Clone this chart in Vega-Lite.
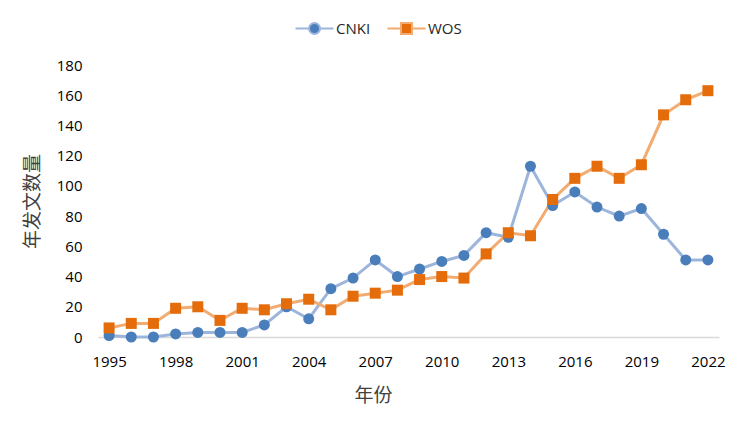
{
  "$schema": "https://vega.github.io/schema/vega-lite/v6.json",
  "width": 621,
  "height": 272,
  "autosize": {"type": "none"},
  "padding": {"left": 98, "top": 65, "right": 26, "bottom": 92},
  "background": "white",
  "config": {
    "view": {"stroke": null},
    "font": "Open Sans"
  },
  "data": {
    "values": [
      {"year": 1995, "series": "CNKI", "value": 1},
      {"year": 1996, "series": "CNKI", "value": 0},
      {"year": 1997, "series": "CNKI", "value": 0},
      {"year": 1998, "series": "CNKI", "value": 2},
      {"year": 1999, "series": "CNKI", "value": 3},
      {"year": 2000, "series": "CNKI", "value": 3},
      {"year": 2001, "series": "CNKI", "value": 3},
      {"year": 2002, "series": "CNKI", "value": 8},
      {"year": 2003, "series": "CNKI", "value": 20},
      {"year": 2004, "series": "CNKI", "value": 12},
      {"year": 2005, "series": "CNKI", "value": 32},
      {"year": 2006, "series": "CNKI", "value": 39},
      {"year": 2007, "series": "CNKI", "value": 51},
      {"year": 2008, "series": "CNKI", "value": 40},
      {"year": 2009, "series": "CNKI", "value": 45},
      {"year": 2010, "series": "CNKI", "value": 50},
      {"year": 2011, "series": "CNKI", "value": 54},
      {"year": 2012, "series": "CNKI", "value": 69},
      {"year": 2013, "series": "CNKI", "value": 66},
      {"year": 2014, "series": "CNKI", "value": 113},
      {"year": 2015, "series": "CNKI", "value": 87},
      {"year": 2016, "series": "CNKI", "value": 96},
      {"year": 2017, "series": "CNKI", "value": 86},
      {"year": 2018, "series": "CNKI", "value": 80},
      {"year": 2019, "series": "CNKI", "value": 85},
      {"year": 2020, "series": "CNKI", "value": 68},
      {"year": 2021, "series": "CNKI", "value": 51},
      {"year": 2022, "series": "CNKI", "value": 51},
      {"year": 1995, "series": "WOS", "value": 6},
      {"year": 1996, "series": "WOS", "value": 9},
      {"year": 1997, "series": "WOS", "value": 9},
      {"year": 1998, "series": "WOS", "value": 19},
      {"year": 1999, "series": "WOS", "value": 20},
      {"year": 2000, "series": "WOS", "value": 11},
      {"year": 2001, "series": "WOS", "value": 19},
      {"year": 2002, "series": "WOS", "value": 18},
      {"year": 2003, "series": "WOS", "value": 22},
      {"year": 2004, "series": "WOS", "value": 25},
      {"year": 2005, "series": "WOS", "value": 18},
      {"year": 2006, "series": "WOS", "value": 27},
      {"year": 2007, "series": "WOS", "value": 29},
      {"year": 2008, "series": "WOS", "value": 31},
      {"year": 2009, "series": "WOS", "value": 38},
      {"year": 2010, "series": "WOS", "value": 40},
      {"year": 2011, "series": "WOS", "value": 39},
      {"year": 2012, "series": "WOS", "value": 55},
      {"year": 2013, "series": "WOS", "value": 69},
      {"year": 2014, "series": "WOS", "value": 67},
      {"year": 2015, "series": "WOS", "value": 91},
      {"year": 2016, "series": "WOS", "value": 105},
      {"year": 2017, "series": "WOS", "value": 113},
      {"year": 2018, "series": "WOS", "value": 105},
      {"year": 2019, "series": "WOS", "value": 114},
      {"year": 2020, "series": "WOS", "value": 147},
      {"year": 2021, "series": "WOS", "value": 157},
      {"year": 2022, "series": "WOS", "value": 163}
    ]
  },
  "encoding": {
    "x": {
      "field": "year",
      "type": "quantitative",
      "scale": {"domain": [1994.5, 2022.5], "nice": false, "zero": false},
      "axis": {
        "title": "年份",
        "values": [1995, 1998, 2001, 2004, 2007, 2010, 2013, 2016, 2019, 2022],
        "format": "d",
        "grid": false,
        "ticks": false,
        "domainColor": "#D9D9D9",
        "domainWidth": 1.5,
        "labelFont": "Open Sans",
        "labelFontSize": 15,
        "labelColor": "#000000",
        "labelPadding": 17,
        "labelFlush": false,
        "titleFont": "Noto Sans CJK SC",
        "titleFontSize": 19,
        "titleFontWeight": "normal",
        "titleColor": "#404040",
        "titleX": 275,
        "titleY": 58,
        "titleBaseline": "middle"
      }
    },
    "y": {
      "field": "value",
      "type": "quantitative",
      "scale": {"domain": [0, 180], "nice": false},
      "axis": {
        "title": "年发文数量",
        "values": [0, 20, 40, 60, 80, 100, 120, 140, 160, 180],
        "grid": false,
        "ticks": false,
        "domain": false,
        "labelFont": "Open Sans",
        "labelFontSize": 15,
        "labelColor": "#000000",
        "labelPadding": 16,
        "titleFont": "Noto Sans CJK SC",
        "titleFontSize": 19,
        "titleFontWeight": "normal",
        "titleColor": "#404040",
        "titlePadding": 14
      }
    }
  },
  "layer": [
    {
      "mark": {"type": "line", "strokeWidth": 3},
      "encoding": {
        "stroke": {
          "field": "series",
          "type": "nominal",
          "scale": {"domain": ["CNKI", "WOS"], "range": ["#9DB5DB", "#F2AC72"]},
          "legend": {
            "title": null,
            "orient": "none",
            "direction": "horizontal",
            "legendX": 209,
            "legendY": -44,
            "padding": 0,
            "symbolSize": 121,
            "symbolStrokeWidth": 2,
            "labelOffset": 14,
            "columnPadding": 12,
            "labelFont": "Open Sans",
            "labelFontSize": 15,
            "labelColor": "#262626",
            "encoding": {
              "symbols": {
                "shape": {"value": {"expr": "datum.value === 'CNKI' ? 'M-3.45,0H-1M1,0H3.45M1,0A1,1,0,1,1,-1,0A1,1,0,1,1,1,0Z' : 'M-3.45,0H-1M1,0H3.45M-1,-1H1V1H-1Z'"}},
                "fill": {"value": {"expr": "datum.value === 'CNKI' ? '#4A7EBB' : '#E46C0A'"}},
                "fillOpacity": {"value": 1},
                "strokeWidth": {"value": 2}
              }
            }
          }
        }
      }
    },
    {
      "transform": [{"filter": "datum.series === 'CNKI'"}],
      "mark": {"type": "point", "shape": "circle", "filled": true, "size": 121, "opacity": 1, "color": "#4A7EBB"}
    },
    {
      "transform": [{"filter": "datum.series === 'WOS'"}],
      "mark": {"type": "point", "shape": "square", "filled": true, "size": 121, "opacity": 1, "color": "#E46C0A"}
    }
  ]
}
